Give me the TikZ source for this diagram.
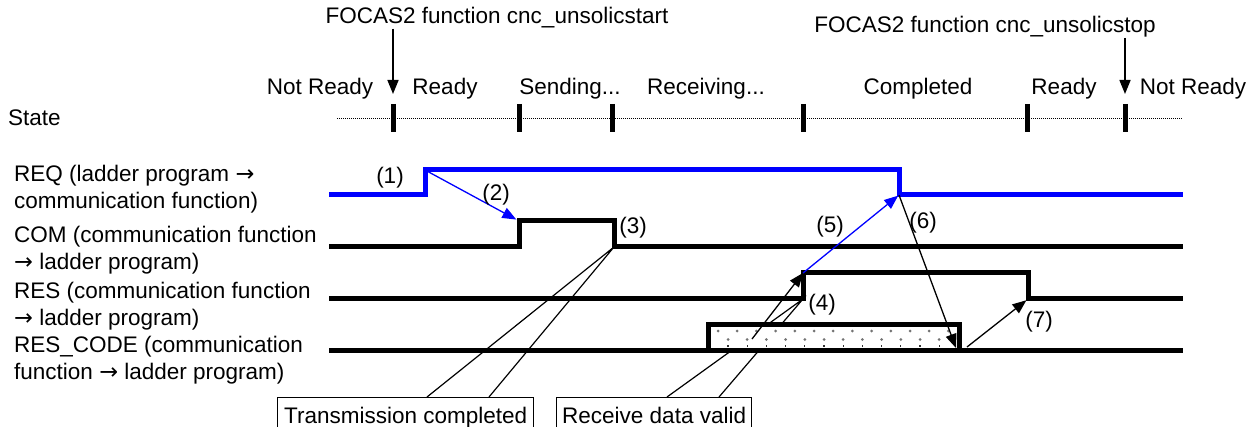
\documentclass[tikz,border=0pt]{standalone}
\usepackage{fontspec}
\setmainfont{Liberation Sans}
\newfontfamily\arrowfont{DejaVu Sans}
\usetikzlibrary{arrows.meta}
\definecolor{req_blue}{RGB}{0, 0, 255}
\newcommand{\toarrow}{{\arrowfont →}}

\begin{document}
\begin{tikzpicture}[x=1pt, y=-1pt,
    every node/.style={font=\fontsize{22.5}{26.5}\selectfont, inner sep=0pt},
    sig/.style={line width=5pt},
    tickmark/.style={line width=5pt},
    link/.style={line width=1.3pt, -{Triangle[length=14pt, width=11pt]}},
    note/.style={draw, line width=1.3pt, anchor=north west, inner xsep=5pt,
                 inner ysep=5pt, text height=21pt, text depth=12pt}]
  \useasboundingbox (0,0) rectangle (1257,427);

  % state row
  \node[anchor=base west] (state) at (8,126) {State};
  \draw[line width=1pt, dash pattern=on 1pt off 1pt] (337,119) -- (1182,119);
  \foreach \x [count=\i] in {393,519,612,803,1027,1125} {
    \coordinate (t\i) at (\x,104);
    \draw[tickmark] (t\i) -- ++(0,28);
  }
  \node[anchor=base] (s1) at (320,95) {Not Ready};
  \node[anchor=base] (s2) at (445,95) {Ready};
  \node[anchor=base] (s3) at (570,95) {Sending...};
  \node[anchor=base] (s4) at (706,95) {Receiving...};
  \node[anchor=base] (s5) at (918,95) {Completed};
  \node[anchor=base] (s6) at (1064,95) {Ready};
  \node[anchor=base] (s7) at (1193,95) {Not Ready};

  \node[anchor=base] (start) at (497,24) {FOCAS2 function cnc\_unsolicstart};
  \node[anchor=base] (stop) at (985,33) {FOCAS2 function cnc\_unsolicstop};
  \draw[link, line width=1.6pt, shorten >=10pt] (start.south -| t1) -- (t1);
  \draw[link, line width=1.6pt, shorten >=10pt] (stop.south -| t6) -- (t6);

  % signal names
  \node[anchor=west, align=left] (reqL) at (14,189)
    {REQ (ladder program \toarrow\\communication function)};
  \node[anchor=west, align=left] (comL) at (14,250)
    {COM (communication function\\\toarrow\ ladder program)};
  \node[anchor=west, align=left] (resL) at (14,306)
    {RES (communication function\\\toarrow\ ladder program)};
  \node[anchor=west, align=left] (codeL) at (14,360)
    {RES\_CODE (communication\\function \toarrow\ ladder program)};

  % waveforms
  \coordinate (reqUp) at (425,170);
  \coordinate (reqDn) at (899,195);
  \coordinate (comUp) at (519,221);
  \coordinate (comDn) at (614,247);
  \coordinate (resUp) at (803,273);
  \coordinate (resLo) at (803,299);
  \coordinate (resDn) at (1028,299);
  \draw[sig, req_blue] (329,195) -| (reqUp) -| (reqDn) -- (1183,195);
  \draw[sig] (329,247) -| (comUp) -| (comDn) -- (1183,247);
  \draw[sig] (329,299) -| (resUp) -| (resDn) -- (1183,299);

  % callouts
  \node[note, minimum width=256pt] (trans) at (277,397) {Transmission completed};
  \node[note, minimum width=195pt] (recv) at (556,397) {Receive data valid};
  \coordinate (transA) at (427,397);
  \coordinate (transB) at (489,397);
  \coordinate (recvA) at (667,397);
  \coordinate (recvB) at (719,397);
  \draw[line width=1.2pt] (transA) -- (comDn) -- (transB);
  \draw[line width=1.2pt] (recvA) -- (resLo) -- (recvB);

  % RES_CODE with data pulse
  \fill[white] (708,324) rectangle (959,350);
  \foreach \k in {0,...,12} {
    \fill[black!55] ({718+19.2*\k},331) circle (1.5pt);
  }
  \foreach \k in {0,...,11} {
    \fill[black!55] ({728+19.2*\k},339.5) circle (1.5pt);
    \fill[black!80] ({727.4+19.2*\k},344.5) rectangle ++(1.2,2.5);
  }
  \draw[sig] (329,350) -- (1183,350);
  \draw[sig] (708,350) |- (959,324) -- (959,350);

  % handshake arrows
  \coordinate (codeA) at (752,339);
  \coordinate (codeB) at (956,348);
  \coordinate (codeC) at (967,347);
  \draw[link, req_blue, shorten >=3pt] (reqUp) -- (comUp);
  \draw[link, req_blue, shorten >=1pt] (resUp) -- (reqDn);
  \draw[link] (reqDn) -- (codeB);
  \draw[link] (codeA) -- (resUp);
  \draw[link, shorten >=2pt] (codeC) -- (resDn);

  \node (n1) at (390,178) {(1)};
  \node (n2) at (496,195) {(2)};
  \node (n3) at (633,228) {(3)};
  \node (n4) at (822,305) {(4)};
  \node (n5) at (830,227) {(5)};
  \node (n6) at (923,223) {(6)};
  \node (n7) at (1039,322) {(7)};
\end{tikzpicture}
\end{document}
